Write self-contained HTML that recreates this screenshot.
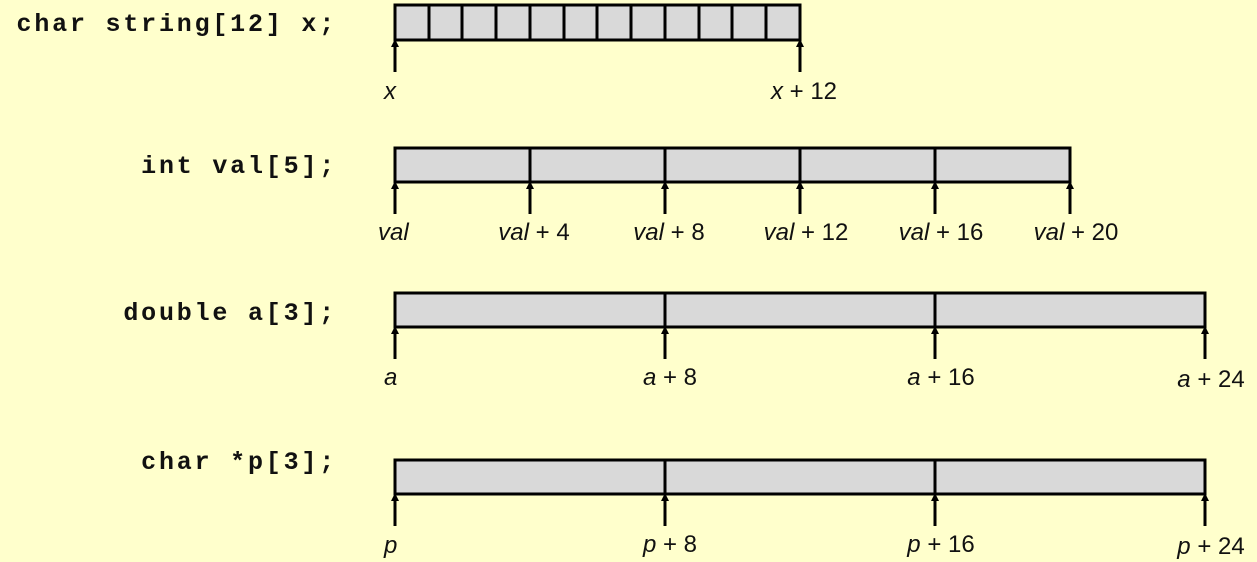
<!DOCTYPE html>
<html><head><style>
body{margin:0;width:1257px;height:562px;background:#ffffcc;overflow:hidden}
svg{display:block}
.c{font-family:"Liberation Mono",monospace;font-weight:bold;font-size:25px;letter-spacing:2.8px;fill:#111}
.l{font-family:"Liberation Sans",sans-serif;font-size:24px;fill:#111}
.i{font-style:italic}
</style></head><body>
<svg width="1257" height="562" xmlns="http://www.w3.org/2000/svg">
<g stroke="#000" stroke-width="3">
<rect x="395" y="5" width="405" height="35" fill="#d9d9d9"/>
<path d="M429,5V40M462,5V40M496,5V40M530,5V40M564,5V40M597,5V40M631,5V40M665,5V40M699,5V40M732,5V40M766,5V40"/>
<rect x="395" y="148" width="675" height="34" fill="#d9d9d9"/>
<path d="M530,148V182M665,148V182M800,148V182M935,148V182"/>
<rect x="395" y="293" width="810" height="34" fill="#d9d9d9"/>
<path d="M665,293V327M935,293V327"/>
<rect x="395" y="460" width="810" height="34" fill="#d9d9d9"/>
<path d="M665,460V494M935,460V494"/>
</g>
<g stroke="#000" stroke-width="3">
<path d="M395,72V42M800,72V42"/>
<path d="M395,214V184M530,214V184M665,214V184M800,214V184M935,214V184M1070,214V184"/>
<path d="M395,359V329M665,359V329M935,359V329M1205,359V329"/>
<path d="M395,526V496M665,526V496M935,526V496M1205,526V496"/>
</g>
<g fill="#000">
<path d="M391,47L395,39L399,47ZM796,47L800,39L804,47Z"/>
<path d="M391,189L395,181L399,189ZM526,189L530,181L534,189ZM661,189L665,181L669,189ZM796,189L800,181L804,189ZM931,189L935,181L939,189ZM1066,189L1070,181L1074,189Z"/>
<path d="M391,334L395,326L399,334ZM661,334L665,326L669,334ZM931,334L935,326L939,334ZM1201,334L1205,326L1209,334Z"/>
<path d="M391,501L395,493L399,501ZM661,501L665,493L669,501ZM931,501L935,493L939,501ZM1201,501L1205,493L1209,501Z"/>
</g>
<g class="c" text-anchor="end">
<text x="337" y="31">char string[12] x;</text>
<text x="337" y="173">int val[5];</text>
<text x="337" y="320">double a[3];</text>
<text x="337" y="469">char *p[3];</text>
</g>
<g class="l">
<text x="384" y="99" class="i">x</text>
<text x="804" y="99" text-anchor="middle"><tspan class="i">x</tspan> + 12</text>
<text x="378" y="240" class="i">val</text>
<text x="534" y="240" text-anchor="middle"><tspan class="i">val</tspan> + 4</text>
<text x="669" y="240" text-anchor="middle"><tspan class="i">val</tspan> + 8</text>
<text x="806" y="240" text-anchor="middle"><tspan class="i">val</tspan> + 12</text>
<text x="941" y="240" text-anchor="middle"><tspan class="i">val</tspan> + 16</text>
<text x="1076" y="240" text-anchor="middle"><tspan class="i">val</tspan> + 20</text>
<text x="384" y="385" class="i">a</text>
<text x="670" y="385" text-anchor="middle"><tspan class="i">a</tspan> + 8</text>
<text x="941" y="385" text-anchor="middle"><tspan class="i">a</tspan> + 16</text>
<text x="1211" y="387" text-anchor="middle"><tspan class="i">a</tspan> + 24</text>
<text x="384" y="553" class="i">p</text>
<text x="670" y="552" text-anchor="middle"><tspan class="i">p</tspan> + 8</text>
<text x="941" y="552" text-anchor="middle"><tspan class="i">p</tspan> + 16</text>
<text x="1211" y="554" text-anchor="middle"><tspan class="i">p</tspan> + 24</text>
</g>
</svg>
</body></html>
